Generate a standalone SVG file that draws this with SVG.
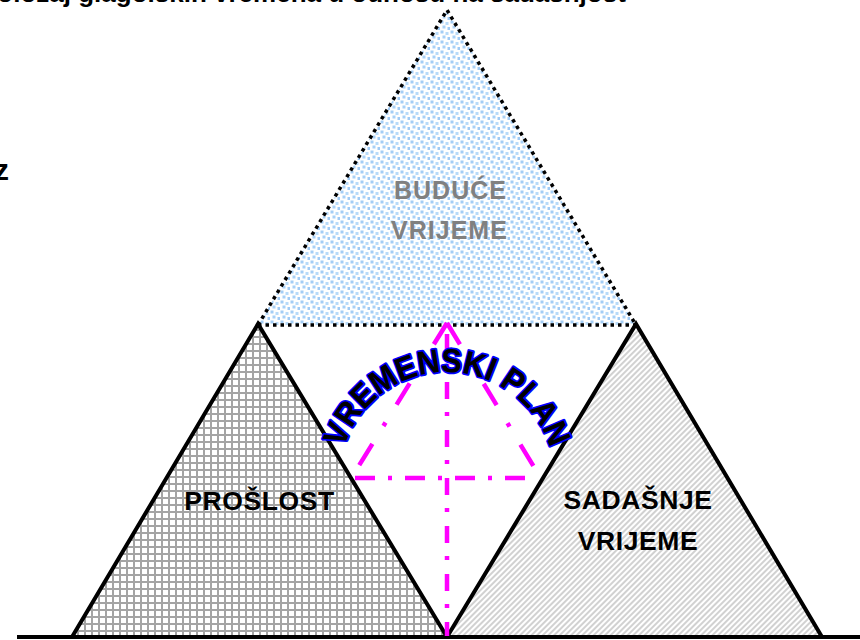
<svg xmlns="http://www.w3.org/2000/svg" width="860" height="640" viewBox="0 0 860 640">
<style>
.lbl{font-family:"Liberation Sans",Arial,sans-serif;font-weight:bold;font-size:25px;text-anchor:middle;letter-spacing:1px}
.blk{font-size:26.5px;letter-spacing:0.6px}
.outline{stroke:#000;stroke-width:4;fill:none;stroke-linejoin:miter}
.dotted{stroke:#000;stroke-width:3.5;fill:none;stroke-dasharray:3.5 4}
.mag{stroke:#ff00ff;stroke-width:4.5;fill:none}
.curv{font-family:"Liberation Sans",Arial,sans-serif;font-weight:bold;font-size:33px;fill:#000;stroke:#0000ff;stroke-width:3.5;paint-order:stroke;stroke-linejoin:round}
</style>
<defs>
<pattern id="dots" width="10" height="10" patternUnits="userSpaceOnUse">
<rect width="10" height="10" fill="#fff"/>
<rect x="0.5" y="0.5" width="3" height="3" fill="#a3cdf6"/>
<rect x="5.5" y="2" width="3" height="3" fill="#b7daf9"/>
<rect x="2.5" y="5.5" width="3" height="3" fill="#a9d1f7"/>
<rect x="7.5" y="7" width="2.5" height="3" fill="#9fcaf5"/>
</pattern>
<pattern id="grid" width="7" height="7" patternUnits="userSpaceOnUse">
<rect width="7" height="7" fill="#a4a4a4"/>
<rect x="2" y="2" width="5" height="5" fill="#fff"/>
</pattern>
<pattern id="hatch" width="4" height="4" patternUnits="userSpaceOnUse" patternTransform="rotate(45)">
<rect width="4" height="4" fill="#fff"/>
<line x1="1" y1="0" x2="1" y2="4" stroke="#c6c6c6" stroke-width="1.6"/>
</pattern>
<path id="arc" d="M339,480 A108,108 0 0 1 555,480"/>
</defs>

<text x="-20" y="2" font-family="Liberation Sans, Arial, sans-serif" font-size="26" font-weight="bold" fill="#000">Položaj glagolskih vremena u odnosu na sadašnjost</text>
<text x="9" y="180" font-family="Liberation Sans, Arial, sans-serif" font-size="30" font-weight="bold" fill="#000" text-anchor="end">z</text>

<g id="buduce">
<polygon points="447,10 258,325 636,325" fill="url(#dots)"/>
<polyline class="dotted" points="258,325 447,10 636,325"/>
<text class="lbl" x="450.5" y="199" fill="#808080">BUDUĆE</text>
<text class="lbl" x="449.5" y="239" fill="#808080">VRIJEME</text>
</g>

<g id="sredina">
<polygon points="258,325 636,325 447,636" fill="#fff"/>
<line class="dotted" x1="258" y1="325" x2="636" y2="325"/>
</g>

<g id="proslost">
<polygon points="72,637 258,324 447,637" fill="url(#grid)"/>
<polyline class="outline" points="72,637 258,324 447,637"/>
<text class="lbl blk" x="259.5" y="510" fill="#000">PROŠLOST</text>
</g>

<g id="sadasnje">
<polygon points="447,637 636,324 822,637" fill="url(#hatch)"/>
<polyline class="outline" points="447,637 636,324 822,637"/>
<text class="lbl blk" x="638" y="509" fill="#000">SADAŠNJE</text>
<text class="lbl blk" x="638" y="550" fill="#000">VRIJEME</text>
</g>

<g id="connectors">
<line x1="17" y1="637" x2="860" y2="637" stroke="#000" stroke-width="4"/>
<path class="mag" d="M447,323 L355,472" stroke-dasharray="25 21 4 21"/>
<path class="mag" d="M447,323 L537,472" stroke-dasharray="25 21 4 21"/>
<path class="mag" d="M447,334 L447,636" stroke-dasharray="17 13 4 14"/>
<path class="mag" d="M355,478 L537,478" stroke-dasharray="20 13 4 13"/>
</g>

<g id="vremenski-plan">
<text class="curv" textLength="274" lengthAdjust="spacingAndGlyphs"><textPath href="#arc" startOffset="50%" text-anchor="middle">VREMENSKI PLAN</textPath></text>
</g>
</svg>
